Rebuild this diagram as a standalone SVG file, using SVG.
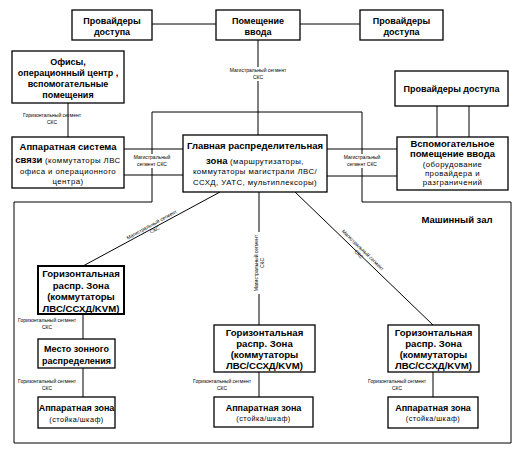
<svg xmlns="http://www.w3.org/2000/svg" width="522" height="450" viewBox="0 0 522 450">
<style>
text{font-family:"Liberation Sans",Arial,sans-serif;fill:#000;text-anchor:middle}
.box{fill:#fff;stroke:#000;stroke-width:1.3}
.boxt{fill:#fff;stroke:#000;stroke-width:2}
.b9{font-size:9px;font-weight:bold}
.b95{font-size:9.5px;font-weight:bold}
.b10{font-size:9.6px;font-weight:bold}
.r8{font-size:7.8px;letter-spacing:0.45px}
.r7{font-size:7.3px;letter-spacing:0.45px}
.s{font-size:5px}
.c line{stroke:#000;stroke-width:1}
.bg{fill:#fff}
</style>
<rect width="522" height="450" fill="#fff"/>
<g id="machine-room">
<polygon points="152,112 362,112 362,202 511,202 511,443 14,443 14,202 152,202" fill="none" stroke="#000" stroke-width="1"/>
<text class="b95" x="457" y="223">Машинный зал</text>
</g>
<g id="connectors" class="c">
<line x1="152" y1="24" x2="216" y2="24"/>
<line x1="300" y1="24" x2="360" y2="24"/>
<line x1="258" y1="40" x2="258" y2="135"/>
<line x1="68" y1="103" x2="68" y2="137"/>
<line x1="124" y1="149" x2="183" y2="149"/>
<line x1="124" y1="175" x2="183" y2="175"/>
<line x1="327" y1="149" x2="397" y2="149"/>
<line x1="327" y1="176" x2="397" y2="176"/>
<line x1="437" y1="106" x2="437" y2="137"/>
<line x1="469" y1="106" x2="469" y2="137"/>
<line x1="220" y1="192" x2="83" y2="266"/>
<line x1="259" y1="192" x2="259" y2="325"/>
<line x1="295" y1="192" x2="433" y2="325"/>
<line x1="83" y1="314" x2="83" y2="339"/>
<line x1="83" y1="368" x2="83" y2="397"/>
<line x1="259" y1="372" x2="259" y2="397"/>
<line x1="433" y1="372" x2="433" y2="397"/>
</g>
<g id="connector-labels">
<rect class="bg" x="220" y="67" width="76" height="14"/>
<text class="s" x="258" y="72">Магистральный сегмент</text>
<text class="s" x="258" y="79">СКС</text>
<text class="s" x="52" y="117">Горизонтальный сегмент</text>
<text class="s" x="52" y="124">СКС</text>
<rect class="bg" x="131" y="154" width="42" height="14"/>
<text class="s" x="152" y="159">Магистральный</text>
<text class="s" x="152" y="166">сегмент СКС</text>
<rect class="bg" x="340" y="154" width="44" height="14"/>
<text class="s" x="362" y="159">Магистральный</text>
<text class="s" x="362" y="166">сегмент СКС</text>
<g transform="translate(153,227) rotate(-28.7)">
<text class="s" x="0" y="-1">Магистральный сегмент</text>
<text class="s" x="0" y="5">СКС</text>
</g>
<rect class="bg" x="253" y="232" width="13" height="62"/>
<g transform="translate(259,263) rotate(-90)">
<text class="s" x="0" y="-1">Магистральный сегмент</text>
<text class="s" x="0" y="5">СКС</text>
</g>
<g transform="translate(361,252) rotate(44)">
<text class="s" x="0" y="-1">Магистральный сегмент</text>
<text class="s" x="0" y="5">СКС</text>
</g>
<text class="s" x="47" y="322">Горизонтальный сегмент</text>
<text class="s" x="47" y="329">СКС</text>
<text class="s" x="47" y="383">Горизонтальный сегмент</text>
<text class="s" x="47" y="390">СКС</text>
<text class="s" x="222" y="383">Горизонтальный сегмент</text>
<text class="s" x="222" y="390">СКС</text>
<text class="s" x="397" y="383">Горизонтальный сегмент</text>
<text class="s" x="397" y="390">СКС</text>
</g>
<g id="providers-left">
<rect class="box" x="72" y="10" width="80" height="30"/>
<text class="b9" x="112" y="23.5">Провайдеры</text>
<text class="b9" x="112" y="35">доступа</text>
</g>
<g id="entrance-room">
<rect class="box" x="216" y="10" width="84" height="30"/>
<text class="b9" x="258" y="23.5">Помещение</text>
<text class="b9" x="258" y="35">ввода</text>
</g>
<g id="providers-right">
<rect class="box" x="360" y="10" width="83" height="30"/>
<text class="b9" x="401.5" y="23.5">Провайдеры</text>
<text class="b9" x="401.5" y="35">доступа</text>
</g>
<g id="offices">
<rect class="box" x="12" y="51" width="112" height="52"/>
<text class="b9" x="68" y="65">Офисы,</text>
<text class="b9" x="68" y="76">операционный центр ,</text>
<text class="b9" x="68" y="87">вспомогательные</text>
<text class="b9" x="68" y="98">помещения</text>
</g>
<g id="providers-2">
<rect class="box" x="395" y="71" width="113" height="35"/>
<text class="b9" x="451.5" y="92">Провайдеры доступа</text>
</g>
<g id="office-equipment">
<rect class="box" x="12" y="137" width="112" height="51"/>
<text class="b95" x="68" y="150">Аппаратная система</text>
<text x="68" y="162.5"><tspan class="b95">связи</tspan><tspan class="r8"> (коммутаторы ЛВС</tspan></text>
<text class="r8" x="68" y="173.5">офиса и операционного</text>
<text class="r8" x="68" y="183.5">центра)</text>
</g>
<g id="main-distribution">
<rect class="box" x="183" y="135" width="144" height="57"/>
<text class="b95" x="255" y="148.5">Главная распределительная</text>
<text x="255" y="164"><tspan class="b95">зона</tspan><tspan class="r8"> (маршрутизаторы,</tspan></text>
<text class="r8" x="255" y="174">коммутаторы магистрали ЛВС/</text>
<text class="r8" x="255" y="185">ССХД, УАТС, мультиплексоры)</text>
</g>
<g id="aux-entrance">
<rect class="box" x="397" y="137" width="111" height="53"/>
<text class="b95" x="452.5" y="147">Вспомогательное</text>
<text class="b95" x="452.5" y="157">помещение ввода</text>
<text class="r8" x="452.5" y="166.5">(оборудование</text>
<text class="r8" x="452.5" y="175.5">провайдера и</text>
<text class="r8" x="452.5" y="184.5">разграничений</text>
</g>
<g id="hda-left">
<rect class="boxt" x="38" y="266" width="86" height="48"/>
<text class="b10" x="81" y="277">Горизонтальная</text>
<text class="b10" x="81" y="288.5">распр. Зона</text>
<text class="b10" x="81" y="300">(коммутаторы</text>
<text class="b10" x="81" y="311.5">ЛВС/ССХД/KVM)</text>
</g>
<g id="zone-distribution">
<rect class="box" x="38" y="339" width="77" height="29"/>
<text class="b9" x="76.5" y="352">Место зонного</text>
<text class="b9" x="76.5" y="364">распределения</text>
</g>
<g id="equipment-left">
<rect class="box" x="38" y="397" width="77" height="31"/>
<text class="b9" x="76.5" y="411">Аппаратная зона</text>
<text class="r7" x="76.5" y="421.5">(стойка/шкаф)</text>
</g>
<g id="hda-middle">
<rect class="box" x="214" y="325" width="101" height="47"/>
<text class="b10" x="264.5" y="336">Горизонтальная</text>
<text class="b10" x="264.5" y="347">распр. Зона</text>
<text class="b10" x="264.5" y="358">(коммутаторы</text>
<text class="b10" x="264.5" y="369">ЛВС/ССХД/KVM)</text>
</g>
<g id="equipment-middle">
<rect class="box" x="214" y="397" width="99" height="30"/>
<text class="b9" x="263.5" y="411">Аппаратная зона</text>
<text class="r7" x="263.5" y="421">(стойка/шкаф)</text>
</g>
<g id="hda-right">
<rect class="box" x="388" y="325" width="91" height="47"/>
<text class="b10" x="433.5" y="336">Горизонтальная</text>
<text class="b10" x="433.5" y="347">распр. Зона</text>
<text class="b10" x="433.5" y="358">(коммутаторы</text>
<text class="b10" x="433.5" y="369">ЛВС/ССХД/KVM)</text>
</g>
<g id="equipment-right">
<rect class="box" x="388" y="397" width="90" height="31"/>
<text class="b9" x="433" y="411">Аппаратная зона</text>
<text class="r7" x="433" y="421">(стойка/шкаф)</text>
</g>
</svg>
